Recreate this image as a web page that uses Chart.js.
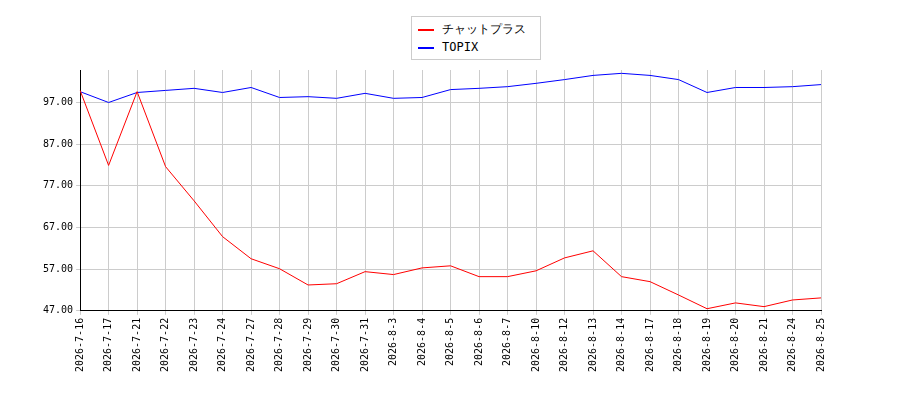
<!DOCTYPE html>
<html><head><meta charset="utf-8">
<script src="https://cdn.jsdelivr.net/npm/chart.js@4"></script>
<style>
body{margin:0;background:#fff;font-family:"DejaVu Sans Mono",monospace;}
#wrap{position:relative;width:900px;height:400px;}
#legend{position:absolute;left:411px;top:16px;width:130px;border:1px solid #ccc;background:#fff;font-size:12px;padding:3px 0 3px 6px;box-sizing:border-box;}
#legend div{height:18px;line-height:18px;}
#legend span{display:inline-block;width:16px;height:0;border-top:2px solid;vertical-align:middle;margin-right:8px;}
</style></head><body>
<div id="wrap"><canvas id="chart" width="900" height="400"></canvas>
<div id="legend"><div><span style="border-color:red"></span>チャットプラス</div><div><span style="border-color:blue"></span>TOPIX</div></div></div>
<script>
const labels = ["2026-7-16","2026-7-17","2026-7-21","2026-7-22","2026-7-23","2026-7-24","2026-7-27","2026-7-28","2026-7-29","2026-7-30","2026-7-31","2026-8-3","2026-8-4","2026-8-5","2026-8-6","2026-8-7","2026-8-10","2026-8-12","2026-8-13","2026-8-14","2026-8-17","2026-8-18","2026-8-19","2026-8-20","2026-8-21","2026-8-24","2026-8-25"];
const chatplus = [99.9,81.9,99.6,81.6,73.4,64.8,59.5,57.1,53.2,53.5,56.4,55.7,57.3,57.8,55.2,55.2,56.6,59.7,61.4,55.2,54.0,50.8,47.5,48.9,48.0,49.6,50.1];
const topix = [99.6,97.0,99.4,99.9,100.4,99.4,100.6,98.2,98.4,98.0,99.2,98.0,98.2,100.1,100.4,100.8,101.6,102.5,103.5,104.0,103.5,102.5,99.4,100.6,100.6,100.8,101.3];
const yTicks = [47,57,67,77,87,97];

new Chart(document.getElementById("chart"), {
    type: "line",
    data: {
        labels: labels,
        datasets: [
            {label: "チャットプラス", data: chatplus, borderColor: "red", borderWidth: 1, pointRadius: 0, tension: 0},
            {label: "TOPIX", data: topix, borderColor: "blue", borderWidth: 1, pointRadius: 0, tension: 0}
        ]
    },
    options: {
        responsive: false,
        animation: false,
        layout: {padding: {left: 40, right: 79, top: 70, bottom: 25}},
        plugins: {legend: {display: false}, tooltip: {enabled: false}},
        scales: {
            x: {
                grid: {color: "#ccc", drawTicks: true, tickLength: 4},
                border: {color: "#000"},
                ticks: {color: "#000", font: {family: "DejaVu Sans Mono", size: 10}, maxRotation: 90, minRotation: 90, autoSkip: false}
            },
            y: {
                min: 47, max: 104.8,
                afterBuildTicks: s => { s.ticks = yTicks.map(v => ({value: v})); },
                grid: {color: "#ccc", tickLength: 4},
                border: {color: "#000"},
                ticks: {color: "#000", font: {family: "DejaVu Sans Mono", size: 10}, callback: v => v.toFixed(2)}
            }
        }
    }
});
</script></body></html>
